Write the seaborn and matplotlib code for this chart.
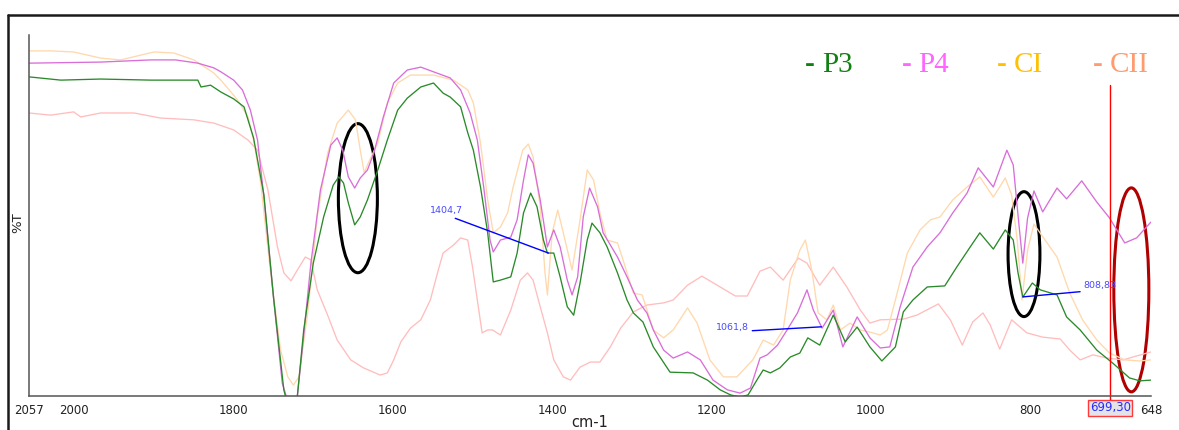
import numpy as np
import pandas as pd
import matplotlib
matplotlib.use("Agg")
import matplotlib.pyplot as plt
from matplotlib.patches import Ellipse
from matplotlib.lines import Line2D
import seaborn as sns

# ---------------- data (wavenumber cm-1, %T) ----------------
P3_wn = [2057, 2017, 1967, 1904, 1845, 1841, 1829, 1816, 1800, 1787, 1775, 1762, 1750, 1737, 1735, 1727,
         1720, 1712, 1700, 1687, 1675, 1668, 1662, 1656, 1648, 1641, 1632, 1619, 1607, 1594, 1582, 1565,
         1549, 1537, 1528, 1515, 1506, 1499, 1490, 1481, 1474, 1465, 1452, 1444, 1436, 1427, 1419, 1411,
         1406, 1398, 1390, 1381, 1373, 1365, 1356, 1350, 1340, 1331, 1318, 1306, 1298, 1286, 1273, 1252,
         1223, 1205, 1189, 1176, 1164, 1154, 1143, 1135, 1126, 1114, 1101, 1089, 1079, 1064, 1047, 1032,
         1017, 1001, 986, 969, 959, 947, 929, 907, 892, 875, 863, 846, 831, 821, 815, 809, 797, 787, 766,
         754, 737, 716, 696, 675, 662, 648]
P3_T = [88.4, 87.5, 87.8, 87.5, 87.5, 85.6, 86.1, 84.2, 82.3, 80.1, 71.5, 55.7, 27.4, 1.7, 0.0, -5.0,
        0.0, 18.3, 36.8, 49.6, 58.4, 60.7, 59.0, 53.5, 47.4, 49.6, 54.3, 62.6, 70.9, 79.2, 82.5, 85.6,
        86.7, 83.9, 82.8, 80.1, 72.9, 68.1, 57.9, 45.2, 31.6, 32.1, 33.0, 39.6, 50.7, 56.2, 52.4, 43.2,
        39.6, 39.6, 33.0, 24.7, 22.4, 31.3, 43.2, 47.9, 45.2, 41.3, 34.1, 26.6, 23.0, 20.5, 13.6, 6.6,
        6.4, 4.4, 1.7, 0.3, -0.3, 0.3, 4.4, 7.2, 6.4, 7.8, 10.8, 11.9, 16.1, 14.1, 22.4, 15.0,
        19.1, 13.6, 9.7, 13.6, 23.3, 26.6, 30.2, 30.5, 35.7, 41.3, 45.2, 40.7, 46.0, 43.2, 34.1, 27.4,
        31.3, 29.4, 28.0, 21.9, 18.3, 12.7, 9.1, 5.0, 4.2, 4.4]

P4_wn = [2057, 1967, 1904, 1873, 1845, 1825, 1816, 1800, 1789, 1779, 1770, 1762, 1750, 1739, 1734, 1728,
         1720, 1713, 1703, 1691, 1678, 1670, 1663, 1656, 1648, 1641, 1632, 1624, 1612, 1599, 1582, 1565,
         1549, 1528, 1515, 1503, 1494, 1486, 1478, 1474, 1465, 1452, 1444, 1436, 1430, 1424, 1415, 1406,
         1398, 1390, 1381, 1375, 1368, 1361, 1353, 1343, 1336, 1318, 1306, 1293, 1281, 1273, 1260, 1248,
         1230, 1214, 1198, 1180, 1164, 1151, 1139, 1130, 1117, 1105, 1092, 1080, 1072, 1061, 1047, 1035,
         1017, 1001, 988, 976, 963, 947, 929, 913, 897, 879, 865, 846, 829, 821, 815, 809, 803, 795, 784,
         766, 754, 735, 716, 700, 681, 666, 648]
P4_T = [92.2, 92.5, 93.1, 93.1, 92.2, 90.9, 89.8, 87.5, 84.8, 79.2, 70.9, 55.1, 27.4, 3.6, 0.0, -5.0,
        0.0, 14.7, 36.8, 57.1, 69.5, 71.5, 68.1, 60.7, 57.6, 60.4, 62.6, 67.3, 77.3, 86.7, 90.3, 91.1,
        89.8, 88.1, 84.8, 78.4, 70.9, 57.9, 43.2, 39.9, 43.2, 44.0, 48.8, 59.8, 66.8, 64.5, 54.3, 41.3,
        46.0, 41.3, 32.1, 28.0, 33.0, 49.6, 57.6, 52.4, 45.2, 38.5, 33.0, 26.6, 23.0, 18.3, 12.7, 10.5,
        12.2, 10.0, 4.4, 1.7, 0.8, 2.2, 10.5, 11.4, 14.1, 18.3, 23.0, 29.4, 23.8, 18.8, 23.8, 13.6,
        21.9, 16.1, 13.3, 13.6, 24.7, 35.7, 41.3, 45.2, 50.7, 56.2, 63.2, 57.9, 68.1, 64.0, 50.1, 36.8,
        49.3, 56.8, 51.0, 57.6, 54.6, 59.6, 53.7, 49.3, 42.4, 43.8, 48.2]

CI_wn = [2057, 2030, 2001, 1967, 1942, 1900, 1875, 1850, 1825, 1816, 1795, 1782, 1775, 1766, 1754, 1741,
         1732, 1725, 1718, 1707, 1695, 1682, 1670, 1656, 1647, 1641, 1636, 1631, 1619, 1607, 1594, 1578,
         1549, 1524, 1506, 1499, 1490, 1481, 1474, 1465, 1456, 1449, 1437, 1430, 1424, 1415, 1409, 1406,
         1400, 1393, 1386, 1375, 1365, 1356, 1348, 1340, 1331, 1318, 1311, 1298, 1287, 1273, 1260, 1248,
         1230, 1218, 1202, 1185, 1168, 1148, 1135, 1122, 1110, 1101, 1089, 1082, 1074, 1066, 1055, 1047,
         1038, 1026, 1013, 1001, 988, 979, 969, 954, 938, 925, 913, 897, 879, 863, 846, 831, 823, 816,
         810, 803, 795, 781, 766, 750, 734, 716, 700, 681, 662, 648]
CI_T = [95.6, 95.6, 95.3, 93.6, 93.1, 95.3, 95.0, 93.1, 89.5, 87.5, 82.0, 77.3, 70.9, 59.0, 34.9, 12.7,
        5.3, 3.0, 5.3, 23.0, 49.6, 67.3, 75.6, 79.2, 76.5, 68.1, 61.8, 64.5, 70.1, 81.2, 86.7, 88.9,
        88.9, 87.5, 84.8, 81.2, 70.1, 54.3, 45.2, 46.8, 50.7, 57.9, 68.1, 69.8, 66.2, 52.4, 34.1, 28.0,
        45.2, 51.5, 45.2, 34.9, 48.8, 62.6, 59.8, 50.7, 43.2, 42.4, 37.7, 28.5, 28.0, 18.3, 16.1, 18.3,
        24.4, 20.2, 10.0, 5.3, 5.3, 10.0, 15.5, 14.1, 18.3, 32.1, 40.4, 43.2, 34.9, 23.0, 21.1, 25.2,
        18.3, 20.2, 18.3, 17.7, 16.9, 18.3, 26.6, 39.6, 46.0, 48.8, 49.6, 54.3, 57.9, 60.7, 55.1, 60.4,
        55.7, 43.2, 26.6, 40.4, 47.6, 43.2, 38.5, 28.5, 21.1, 15.5, 11.9, 10.0, 9.7, 10.0]

CII_wn = [2057, 2030, 2001, 1992, 1967, 1925, 1892, 1850, 1825, 1800, 1782, 1770, 1757, 1745, 1737, 1728,
          1720, 1710, 1703, 1695, 1682, 1670, 1653, 1637, 1616, 1607, 1599, 1590, 1578, 1565, 1553, 1544,
          1537, 1524, 1515, 1506, 1500, 1494, 1488, 1481, 1475, 1465, 1452, 1440, 1431, 1424, 1415, 1406,
          1398, 1386, 1377, 1365, 1352, 1340, 1327, 1314, 1298, 1281, 1260, 1248, 1230, 1212, 1189, 1170,
          1155, 1139, 1126, 1110, 1091, 1080, 1064, 1047, 1030, 1013, 1001, 988, 959, 942, 915, 900, 885,
          872, 859, 850, 838, 823, 804, 784, 762, 750, 737, 721, 703, 683, 666, 648]
CII_T = [78.4, 77.8, 78.7, 77.3, 78.4, 78.4, 77.0, 76.5, 75.6, 73.7, 70.9, 68.1, 57.1, 41.3, 34.1, 31.9,
         34.9, 38.5, 37.7, 29.4, 22.4, 15.5, 10.0, 7.8, 5.8, 6.4, 10.0, 15.0, 18.8, 21.1, 26.6, 34.1,
         39.6, 41.8, 43.8, 43.2, 35.7, 26.6, 17.5, 18.3, 18.3, 16.9, 23.8, 32.1, 34.1, 32.1, 24.7, 17.5,
         10.0, 5.3, 4.4, 8.0, 9.4, 9.4, 13.6, 18.8, 23.3, 25.2, 25.8, 26.6, 30.7, 33.2, 30.2, 27.7,
         27.7, 34.6, 35.7, 32.1, 38.2, 36.8, 30.7, 35.7, 30.2, 23.8, 20.2, 21.1, 21.3, 22.4, 25.5, 21.1, 14.1,
         20.5, 23.0, 19.7, 13.0, 21.1, 17.5, 16.3, 15.8, 12.7, 10.0, 11.4, 10.5, 10.0, 11.1, 12.2]

series_names = ["CII", "CI", "P4", "P3"]
line_colors = {"P3": "#2a8a2a", "P4": "#d96ed9", "CI": "#ffd8ad", "CII": "#ffbdbd"}
legend_colors = {"P3": "#118011", "P4": "#ff66ff", "CI": "#ffc000", "CII": "#ff9b6e"}

x_ticks = [2057, 2000, 1800, 1600, 1400, 1200, 1000, 800, 648]
x_range = (2057, 648)
cursor_wn = 699.30
cursor_label = "699,30"

# peak annotations: (wavenumber, series, label)
peaks = [(1404.7, "P3", "1404,7"), (1061.8, "P4", "1061,8"), (808.83, "P3", "808,83")]

series = {"P3": (P3_wn, P3_T), "P4": (P4_wn, P4_T), "CI": (CI_wn, CI_T), "CII": (CII_wn, CII_T)}

frames = []
for name in series_names:
    wn, t = series[name]
    frames.append(pd.DataFrame({"wn": wn, "T": t, "series": name}))
df = pd.concat(frames, ignore_index=True)

# ---------------- figure ----------------
W, H = 1179, 430
sns.set_theme(style="white")
plt.rcParams["font.family"] = ["DejaVu Sans"]

fig = plt.figure(figsize=(W / 100, H / 100), dpi=100)
ax = fig.add_axes([29 / W, 34 / H, 1122 / W, 361 / H])

sns.lineplot(data=df, x="wn", y="T", hue="series", hue_order=series_names,
             palette=line_colors, estimator=None, sort=False, legend=False,
             linewidth=0.95, ax=ax)

ax.set_xlim(*x_range)
ax.set_ylim(0, 100)
ax.set_xticks(x_ticks)
ax.set_xticklabels([str(v) for v in x_ticks], fontsize=8.5, color="#222222")
ax.set_yticks(np.arange(0, 101, 10))
ax.set_yticklabels([])
ax.tick_params(axis="both", direction="out", length=3, width=1, color="#555555", pad=2.5)
for side in ["top", "right"]:
    ax.spines[side].set_visible(False)
for side in ["left", "bottom"]:
    ax.spines[side].set_color("#555555")
    ax.spines[side].set_linewidth(1.1)

ax.set_xlabel("cm-1", fontsize=10.5, color="#222222")
ax.xaxis.set_label_coords(0.5, -0.052)
ax.set_ylabel("%T", fontsize=9.5, color="#222222")
ax.yaxis.set_label_coords(-0.004, 0.48)

# cursor line and its label box
ax.axvline(cursor_wn, ymin=-0.014, ymax=0.862, color="#ff0000", lw=1.0, clip_on=False)
ax.text(cursor_wn, -0.033, cursor_label, transform=ax.get_xaxis_transform(),
        ha="center", va="center", fontsize=8.5, color="#2b2bff",
        bbox=dict(boxstyle="square,pad=0.15", fc="#e3e3e8", ec="#ff3a3a", lw=1.0), clip_on=False)

# peak annotations
offsets = {"1404,7": (-102, 38), "1061,8": (-89, -5), "808,83": (77, 7)}
for wn0, sname, lab in peaks:
    wn_arr, t_arr = series[sname]
    yv = np.interp(wn0, wn_arr[::-1], t_arr[::-1])
    ax.annotate(lab, xy=(wn0, yv), xytext=offsets[lab], textcoords="offset pixels",
                ha="center", va="bottom", fontsize=6.8, color="#4a4aff",
                arrowprops=dict(arrowstyle="-", color="#0000ff", lw=1.0,
                                shrinkA=0, shrinkB=0, relpos=(0.5, 0.0)))

# highlight ellipses
ax.add_patch(Ellipse((1644, 54.8), 49, 41.3, fill=False, ec="black", lw=2.2))
ax.add_patch(Ellipse((807.5, 39.3), 40, 34.6, fill=False, ec="black", lw=2.2))
ax.add_patch(Ellipse((672.7, 29.4), 44, 56.5, fill=False, ec="#b00000", lw=2.2, clip_on=False))

# series labels (legend-like text)
legend_pos = {"P3": (805, 822), "P4": (902, 918), "CI": (997, 1014), "CII": (1093, 1110)}
for name in ["P3", "P4", "CI", "CII"]:
    xd, xn = legend_pos[name]
    fig.text(xd / W, 1 - 72 / H, "-", fontsize=21, fontweight="bold", color=legend_colors[name],
             family="Liberation Serif", ha="left", va="baseline")
    fig.text(xn / W, 1 - 72 / H, name, fontsize=21, color=legend_colors[name],
             family="Liberation Serif", ha="left", va="baseline")

# outer frame (top and left edges)
fig.add_artist(Line2D([8 / W, 1.0], [1 - 15 / H, 1 - 15 / H], transform=fig.transFigure,
                      color="#1a1a1a", lw=1.8))
fig.add_artist(Line2D([8 / W, 8 / W], [0.0, 1 - 15 / H], transform=fig.transFigure,
                      color="#1a1a1a", lw=1.8))

fig.savefig("out.png", dpi=100)
